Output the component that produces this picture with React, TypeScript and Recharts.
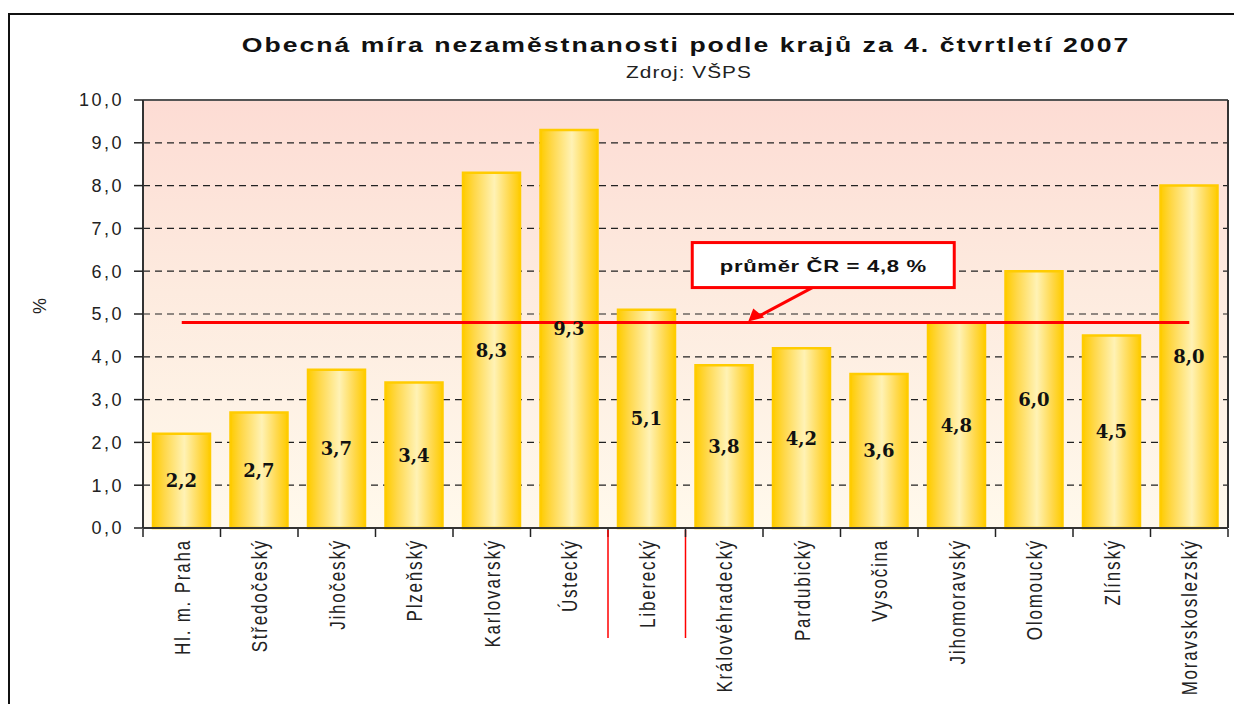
import {
  ComposedChart,
  Bar,
  XAxis,
  YAxis,
  CartesianGrid,
  LabelList,
  ReferenceLine,
  ReferenceDot,
} from "recharts";

// kraje + obecná míra nezaměstnanosti (%)
const regions = [
  "Hl. m. Praha",
  "Středočeský",
  "Jihočeský",
  "Plzeňský",
  "Karlovarský",
  "Ústecký",
  "Liberecký",
  "Královéhradecký",
  "Pardubický",
  "Vysočina",
  "Jihomoravský",
  "Olomoucký",
  "Zlínský",
  "Moravskoslezský",
];
const rates = [2.2, 2.7, 3.7, 3.4, 8.3, 9.3, 5.1, 3.8, 4.2, 3.6, 4.8, 6.0, 4.5, 8.0];
const yTicks = [0, 1, 2, 3, 4, 5, 6, 7, 8, 9, 10];
const avgCR = 4.8;
const highlighted = "Liberecký";
const calloutAt = "Královéhradecký";

const data = regions.map((name, i) => ({ name, value: rates[i] }));

const W = 1234;
const H = 704;
const MARGIN = { top: 99, right: 3, bottom: 6, left: 83 };
const Y_W = 60;
const X_H = 170;
const PLOT_W = W - MARGIN.left - Y_W - MARGIN.right - 3;
const BAND = PLOT_W / regions.length;
const FONT = "'Liberation Sans', Arial, sans-serif";

const fmt = (v: number) => v.toFixed(1).replace(".", ",");

const XTick = (props: any) => {
  const { x, y, payload, index } = props;
  const left = x - BAND / 2;
  const isLast = index === regions.length - 1;
  const red = payload.value === highlighted;
  return (
    <g>
      <line x1={left} x2={left} y1={y - 7} y2={y + 1} stroke="#222" strokeWidth={1.5} />
      {isLast && (
        <line x1={left + BAND} x2={left + BAND} y1={y - 7} y2={y + 1} stroke="#222" strokeWidth={1.5} />
      )}
      {red && (
        <>
          <line x1={left} x2={left} y1={y - 6} y2={y + 102} stroke="#ff0000" strokeWidth={1.5} />
          <line x1={left + BAND} x2={left + BAND} y1={y - 6} y2={y + 102} stroke="#ff0000" strokeWidth={1.5} />
        </>
      )}
      <text
        transform={`translate(${x},${y + 3}) rotate(-90) scale(1,1.3)`}
        textAnchor="end"
        dy="0.36em"
        fontSize={17}
        letterSpacing={1.8}
        fill="#222"
        fontFamily={FONT}
      >
        {payload.value}
      </text>
    </g>
  );
};

const Callout = (props: any) => {
  const { cx, cy } = props;
  const bx = cx - 32;
  const by = cy - 80;
  return (
    <g>
      <line x1={cx + 90} y1={cy - 36} x2={cx + 34} y2={cy - 6} stroke="#ff0000" strokeWidth={3} />
      <polygon
        points={`${cx + 24},${cy - 1} ${cx + 29},${cy - 14} ${cx + 40},${cy - 5}`}
        fill="#ff0000"
      />
      <rect x={bx} y={by} width={262} height={45} fill="#fff" stroke="#ff0000" strokeWidth={3} />
      <text
        transform={`translate(${bx + 131},${by + 23}) scale(1.3,1)`}
        dy="0.35em"
        textAnchor="middle"
        fontSize={17}
        fontWeight="bold"
        letterSpacing={0.5}
        fill="#111"
        fontFamily={FONT}
      >
        průměr ČR = 4,8 %
      </text>
    </g>
  );
};

export default function App() {
  return (
    <div
      style={{
        position: "absolute",
        left: 0,
        top: 0,
        width: W,
        height: H,
        background: "#fff",
        overflow: "hidden",
        fontFamily: FONT,
      }}
    >
      <div
        style={{
          position: "absolute",
          left: 8,
          top: 13,
          width: W,
          height: H,
          border: "2px solid #111",
        }}
      />
      <div style={{ position: "absolute", left: 686, top: 34, width: 0 }}>
        <div
          style={{
            position: "absolute",
            left: 0,
            whiteSpace: "nowrap",
            transform: "translateX(-50%) scaleX(1.33)",
            fontSize: 20,
            fontWeight: "bold",
            letterSpacing: 1.5,
            color: "#111",
          }}
        >
          Obecná míra nezaměstnanosti podle krajů za 4. čtvrtletí 2007
        </div>
      </div>
      <div style={{ position: "absolute", left: 689, top: 64, width: 0 }}>
        <div
          style={{
            position: "absolute",
            left: 0,
            whiteSpace: "nowrap",
            transform: "translateX(-50%) scaleX(1.3)",
            fontSize: 16,
            letterSpacing: 0.8,
            color: "#222",
          }}
        >
          Zdroj: VŠPS
        </div>
      </div>
      <div style={{ position: "absolute", left: 0, top: 0 }}>
        <ComposedChart width={W} height={H} data={data} margin={MARGIN} barSize={57}>
          <defs>
            <linearGradient id="bg" x1="0" y1="0" x2="0" y2="1">
              <stop offset="0%" stopColor="#fddcd4" />
              <stop offset="45%" stopColor="#fdebdf" />
              <stop offset="100%" stopColor="#fff9ec" />
            </linearGradient>
            <linearGradient id="barFill" x1="0" y1="0" x2="1" y2="0">
              <stop offset="0%" stopColor="#ffcc00" />
              <stop offset="20%" stopColor="#ffd84a" />
              <stop offset="55%" stopColor="#fff2b5" />
              <stop offset="82%" stopColor="#ffd84a" />
              <stop offset="100%" stopColor="#ffcc00" />
            </linearGradient>
          </defs>
          <CartesianGrid
            vertical={false}
            fill="url(#bg)"
            stroke="#222"
            strokeDasharray="7 5"
            strokeWidth={1.2}
          />
          <XAxis
            dataKey="name"
            interval={0}
            height={X_H}
            tickLine={false}
            axisLine={{ stroke: "#333", strokeWidth: 2 }}
            tick={<XTick />}
          />
          <XAxis
            xAxisId="top"
            dataKey="name"
            orientation="top"
            height={1}
            tick={false}
            tickLine={false}
            axisLine={{ stroke: "#555", strokeWidth: 2 }}
          />
          <YAxis
            width={Y_W}
            domain={[0, 10]}
            ticks={yTicks}
            interval={0}
            tickFormatter={fmt}
            tickSize={9}
            tickMargin={10}
            axisLine={{ stroke: "#333", strokeWidth: 2 }}
            tickLine={{ stroke: "#222", strokeWidth: 1.5 }}
            tick={{ fontSize: 18, fill: "#222", letterSpacing: 2.5 }}
            label={{
              value: "%",
              angle: -90,
              position: "insideLeft",
              offset: -43,
              style: { fontSize: 18, fill: "#222" },
            }}
          />
          <YAxis
            yAxisId="right"
            orientation="right"
            width={3}
            domain={[0, 10]}
            tick={false}
            tickLine={false}
            axisLine={{ stroke: "#333", strokeWidth: 2 }}
          />
          <Bar
            dataKey="value"
            fill="url(#barFill)"
            stroke="#ffcc00"
            strokeWidth={2.5}
            isAnimationActive={false}
          >
            <LabelList
              dataKey="value"
              position="center"
              formatter={(v: any) => fmt(Number(v))}
              style={{
                fontSize: 18,
                fontWeight: "bold",
                fill: "#111",
                fontFamily: "'DejaVu Serif', serif",
              }}
            />
          </Bar>
          <ReferenceLine
            segment={[
              { x: regions[0], y: avgCR },
              { x: regions[regions.length - 1], y: avgCR },
            ]}
            stroke="#ff0000"
            strokeWidth={3}
          />
          <ReferenceDot x={calloutAt} y={avgCR} shape={<Callout />} />
        </ComposedChart>
      </div>
    </div>
  );
}
